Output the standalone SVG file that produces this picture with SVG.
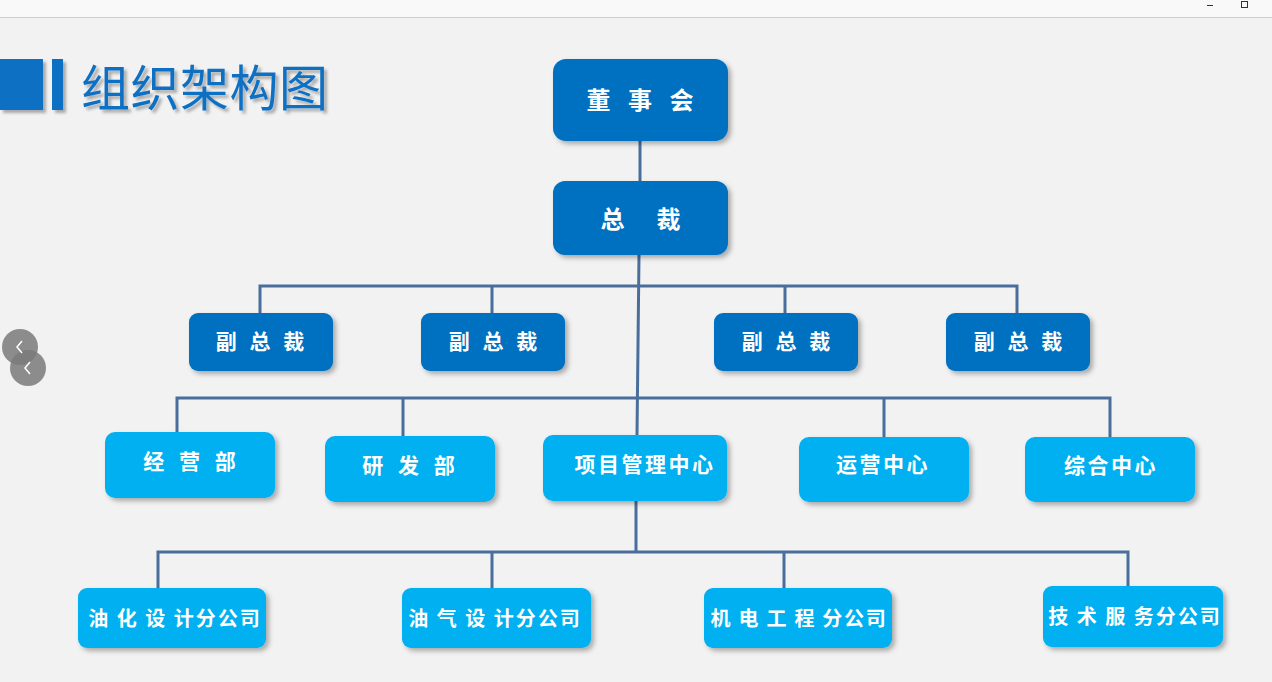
<svg xmlns="http://www.w3.org/2000/svg" width="1272" height="682" viewBox="0 0 1272 682">
<defs>
<filter id="sh" x="-20%" y="-20%" width="150%" height="160%">
<feDropShadow dx="3" dy="3" stdDeviation="2.5" flood-color="#000" flood-opacity="0.3"/>
</filter>
<filter id="tsh" x="-10%" y="-10%" width="120%" height="130%">
<feDropShadow dx="3" dy="3" stdDeviation="1.5" flood-color="#000" flood-opacity="0.3"/>
</filter>
<style>
.dk{fill:#0070c0;filter:url(#sh)}
.lt{fill:#00b0f0;filter:url(#sh)}
.t{fill:#fff;font-family:"Noto Sans CJK SC","Noto Sans CJK JP",sans-serif;font-weight:bold;text-anchor:middle;white-space:pre}
.c{stroke:#4a6e9c;stroke-width:3;fill:none}
</style>
</defs>
<rect width="1272" height="682" fill="#f2f2f2"/>
<rect width="1272" height="17" fill="#f9f9f9"/>
<line x1="0" y1="17.5" x2="1272" y2="17.5" stroke="#cfcfcf" stroke-width="1"/>
<line x1="1207" y1="5.5" x2="1213" y2="5.5" stroke="#333" stroke-width="1"/>
<rect x="1241.5" y="1.5" width="6" height="6" fill="none" stroke="#333" stroke-width="1"/>

<g id="title" filter="url(#tsh)">
<rect x="0" y="59" width="43" height="51" fill="#0a6fc2"/>
<rect x="52" y="59" width="11" height="51" fill="#0a6fc2"/>
<text x="81" y="106" font-family="'Noto Sans CJK SC',sans-serif" font-size="49" letter-spacing="0.5" fill="#1170c3">组织架构图</text>
</g>

<g id="nav">
<circle cx="20" cy="347" r="18" fill="#7a7a7a" opacity="0.85"/>
<circle cx="28" cy="368" r="18" fill="#7a7a7a" opacity="0.85"/>
<polyline points="22,341 17,347 22,353" fill="none" stroke="#fff" stroke-width="1.5"/>
<polyline points="30,362 25,368 30,374" fill="none" stroke="#fff" stroke-width="1.5"/>
</g>

<g id="connectors">
<line class="c" x1="640" y1="141" x2="640" y2="181"/>
<line class="c" x1="639" y1="255" x2="637" y2="435"/>
<polyline class="c" points="260,313 260,286 1017,286 1017,313"/>
<line class="c" x1="492" y1="286" x2="492" y2="313"/>
<line class="c" x1="785" y1="286" x2="785" y2="313"/>
<polyline class="c" points="177,432 177,398 1110,398 1110,437"/>
<line class="c" x1="403" y1="398" x2="403" y2="436"/>
<line class="c" x1="884" y1="398" x2="884" y2="437"/>
<line class="c" x1="636" y1="501" x2="636" y2="552"/>
<polyline class="c" points="158,588 158,552 1128,552 1128,586"/>
<line class="c" x1="492" y1="552" x2="492" y2="588"/>
<line class="c" x1="784" y1="552" x2="784" y2="588"/>
</g>

<g id="board"><rect class="dk" x="553" y="59" width="175" height="82" rx="13"/><text class="t" x="643" y="109" font-size="24" letter-spacing="6">董 事 会</text></g>
<g id="president"><rect class="dk" x="553" y="181" width="175" height="74" rx="12"/><text class="t" x="644" y="228" font-size="24" letter-spacing="7">总  裁</text></g>

<g id="vp1"><rect class="dk" x="189" y="313" width="144" height="58" rx="9"/><text class="t" x="262" y="349" font-size="21" letter-spacing="4">副 总 裁</text></g>
<g id="vp2"><rect class="dk" x="421" y="313" width="144" height="58" rx="9"/><text class="t" x="495" y="349" font-size="21" letter-spacing="4">副 总 裁</text></g>
<g id="vp3"><rect class="dk" x="714" y="313" width="144" height="58" rx="9"/><text class="t" x="788" y="349" font-size="21" letter-spacing="4">副 总 裁</text></g>
<g id="vp4"><rect class="dk" x="946" y="313" width="144" height="58" rx="9"/><text class="t" x="1020" y="349" font-size="21" letter-spacing="4">副 总 裁</text></g>

<g id="dept1"><rect class="lt" x="105" y="432" width="170" height="66" rx="10"/><text class="t" x="192" y="469" font-size="21" letter-spacing="5">经 营 部</text></g>
<g id="dept2"><rect class="lt" x="325" y="436" width="170" height="66" rx="10"/><text class="t" x="411" y="473" font-size="21" letter-spacing="5">研 发 部</text></g>
<g id="dept3"><rect class="lt" x="543" y="435" width="184" height="66" rx="10"/><text class="t" x="645" y="472" font-size="21" letter-spacing="2.5">项目管理中心</text></g>
<g id="dept4"><rect class="lt" x="799" y="437" width="170" height="65" rx="10"/><text class="t" x="883" y="472" font-size="21" letter-spacing="2.5">运营中心</text></g>
<g id="dept5"><rect class="lt" x="1025" y="437" width="170" height="65" rx="10"/><text class="t" x="1111" y="473" font-size="21" letter-spacing="2.5">综合中心</text></g>

<g id="sub1"><rect class="lt" x="78" y="588" width="188" height="60" rx="9"/><text class="t" x="175" y="626" font-size="20" letter-spacing="2">油 化 设 计分公司</text></g>
<g id="sub2"><rect class="lt" x="402" y="588" width="189" height="60" rx="9"/><text class="t" x="495" y="626" font-size="20" letter-spacing="2">油 气 设 计分公司</text></g>
<g id="sub3"><rect class="lt" x="704" y="588" width="188" height="60" rx="9"/><text class="t" x="799" y="626" font-size="20" letter-spacing="1.7">机 电 工 程 分公司</text></g>
<g id="sub4"><rect class="lt" x="1043" y="586" width="180" height="61" rx="9"/><text class="t" x="1135" y="624" font-size="20" letter-spacing="2">技 术 服 务分公司</text></g>
</svg>
